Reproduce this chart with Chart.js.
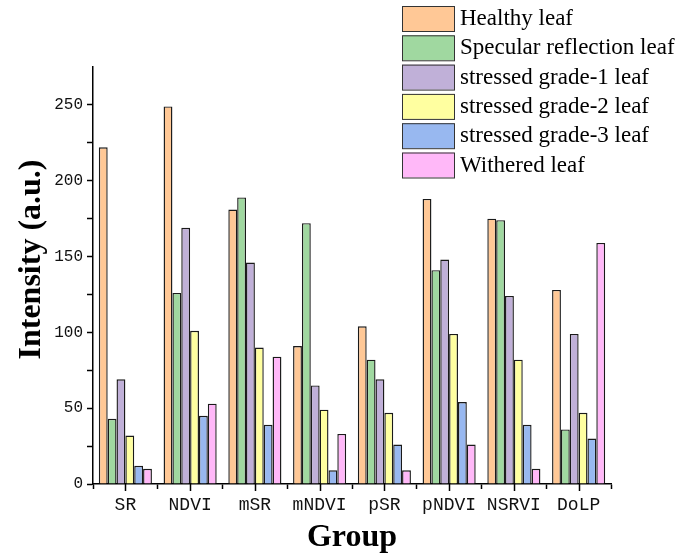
<!DOCTYPE html>
<html>
<head>
<meta charset="utf-8">
<script src="https://cdn.jsdelivr.net/npm/chart.js@4.4.0/dist/chart.umd.min.js"></script>
<style>
    html, body { margin: 0; padding: 0; background: #fff; }
    #wrap { width: 699px; height: 557px; }
</style>
</head>
<body>
<div id="wrap"><canvas id="barChart" width="699" height="557"></canvas></div>
<script>
const groups = ['SR', 'NDVI', 'mSR', 'mNDVI', 'pSR', 'pNDVI', 'NSRVI', 'DoLP'];
const seriesNames = ['Healthy leaf', 'Specular reflection leaf', 'stressed grade-1 leaf',
    'stressed grade-2 leaf', 'stressed grade-3 leaf', 'Withered leaf'];
const healthy = [222, 249, 181, 91, 104, 188, 175, 128];
const specular = [43, 126, 189, 172, 82, 141, 174, 36];
const grade1 = [69, 169, 146, 65, 69, 148, 124, 99];
const grade2 = [32, 101, 90, 49, 47, 99, 82, 47];
const grade3 = [12, 45, 39, 9, 26, 54, 39, 30];
const withered = [10, 53, 84, 33, 9, 26, 10, 159];
const yTicks = [0, 50, 100, 150, 200, 250];
const colors = ['#FFC896', '#A0D8A0', '#C0B0D8', '#FFFFA0', '#98B8F0', '#FFB8F8'];

const allSeries = [healthy, specular, grade1, grade2, grade3, withered];

// legend drawn over the plot, top right
const boxLegend = {
    id: 'boxLegend',
    afterDraw(chart) {
        const c = chart.ctx;
        c.save();
        c.font = '23px "Liberation Serif", serif';
        c.textBaseline = 'middle';
        chart.data.datasets.forEach((ds, i) => {
            const y = 6 + i * 29.3;
            c.fillStyle = ds.backgroundColor;
            c.fillRect(402, y, 52, 25);
            c.strokeStyle = '#333';
            c.lineWidth = 1;
            c.strokeRect(402.5, y + 0.5, 52, 25);
            c.fillStyle = '#000';
            c.fillText(ds.label, 460, y + 13);
        });
        c.restore();
    }
};

// extra ticks at the group centres
const centerTicks = {
    id: 'centerTicks',
    afterDraw(chart) {
        const sx = chart.scales.x;
        const c = chart.ctx;
        c.save();
        c.strokeStyle = '#000';
        c.lineWidth = 1.5;
        groups.forEach((g, i) => {
            const x = Math.round(sx.getPixelForValue(i)) + 0.5;
            c.beginPath();
            c.moveTo(x, sx.top);
            c.lineTo(x, sx.top + 7);
            c.stroke();
        });
        c.restore();
    }
};

const ctx = document.getElementById('barChart').getContext('2d');

const chart = new Chart(ctx, {
    type: 'bar',
    data: {
        labels: groups,
        datasets: allSeries.map((vals, i) => ({
            label: seriesNames[i],
            data: vals,
            backgroundColor: colors[i],
            borderColor: '#1a1a1a',
            borderWidth: 1.4,
            categoryPercentage: 0.82,
            barPercentage: 1.0
        }))
    },
    options: {
        responsive: false,
        animation: false,
        devicePixelRatio: 1,
        layout: {
            padding: {top: 67, right: 88, left: 0, bottom: 0}
        },
        scales: {
            x: {
                grid: {
                    display: true,
                    offset: true,
                    drawOnChartArea: false,
                    drawTicks: true,
                    tickLength: 5,
                    tickWidth: 1.5,
                    tickColor: '#000'
                },
                border: {display: true, color: '#000', width: 1.5},
                ticks: {
                    color: '#111',
                    padding: 5,
                    font: {family: '"Liberation Mono", monospace', size: 18}
                },
                title: {
                    display: true,
                    text: 'Group',
                    color: '#000',
                    padding: {top: 0, bottom: 0},
                    font: {family: '"Liberation Serif", serif', size: 32, weight: 'bold'}
                },
                afterFit(scale) {
                    scale.height = 73;
                }
            },
            y: {
                min: 0,
                max: 275,
                grid: {
                    display: true,
                    drawOnChartArea: false,
                    drawTicks: true,
                    tickLength: 6,
                    tickWidth: 1.5,
                    tickColor: (c) => (c.tick && c.tick.value === 275) ? 'rgba(0,0,0,0)' : '#000'
                },
                border: {display: true, color: '#000', width: 1.5},
                ticks: {
                    stepSize: 25,
                    color: '#111',
                    padding: 4,
                    font: {family: '"Liberation Mono", monospace', size: 16},
                    callback: (v) => yTicks.includes(v) ? String(v) : ''
                },
                title: {
                    display: true,
                    // leading spaces nudge the visible text up a little
                    text: '    Intensity (a.u.)',
                    color: '#000',
                    padding: {top: 13, bottom: 0},
                    font: {family: '"Liberation Serif", serif', size: 32, weight: 'bold'}
                },
                afterFit(scale) {
                    scale.width = 93;
                }
            }
        },
        plugins: {
            legend: {display: false},
            tooltip: {enabled: false}
        }
    },
    plugins: [boxLegend, centerTicks]
});
</script>
</body>
</html>
